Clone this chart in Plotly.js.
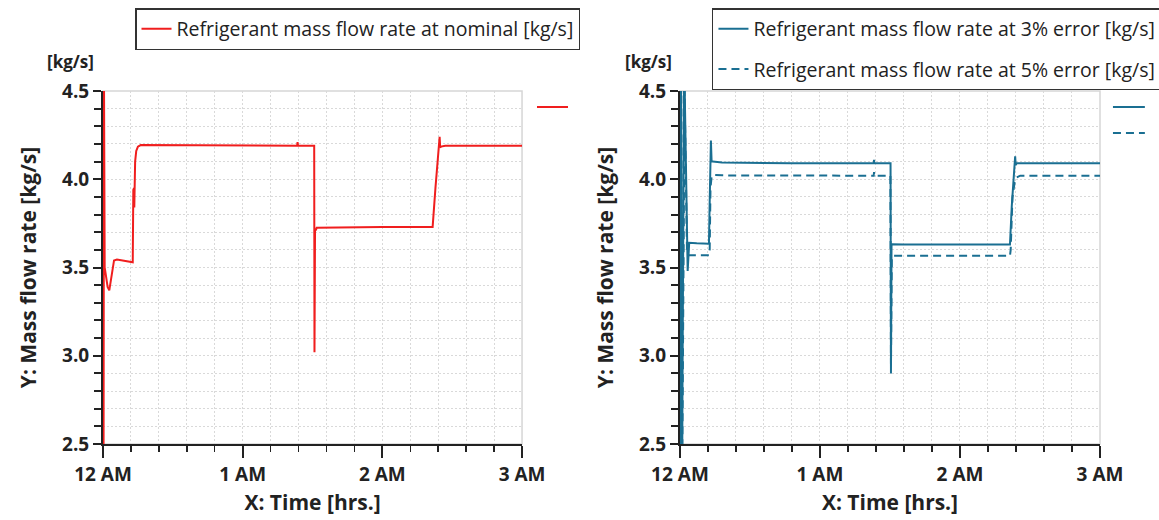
<!DOCTYPE html>
<html>
<head>
<meta charset="utf-8">
<script src="https://cdn.plot.ly/plotly-3.0.1.min.js"></script>
<style>
  html, body { margin: 0; padding: 0; background: #ffffff; }
  #chart { width: 1159px; height: 520px; }
</style>
</head>
<body>
<div id="chart"></div>
<script>
// ---- Data (hours since 12 AM, kg/s) ----
const xTickVals = [0, 1, 2, 3];
const xTickText = ["12 AM", "1 AM", "2 AM", "3 AM"];

const nameNominal = "Refrigerant mass flow rate at nominal [kg/s]";
const name3 = "Refrigerant mass flow rate at 3% error [kg/s]";
const name5 = "Refrigerant mass flow rate at 5% error [kg/s]";

const tNominal = [0, 0.004, 0.007, 0.012, 0.02, 0.033, 0.045, 0.055, 0.066, 0.079, 0.1, 0.15, 0.213, 0.217, 0.222, 0.224, 0.23, 0.238, 0.25, 0.27, 0.6, 1.0, 1.39, 1.393, 1.396, 1.512, 1.514, 1.518, 1.523, 1.53, 2.0, 2.36, 2.38, 2.40, 2.41, 2.414, 2.42, 2.45, 3.0];
const vNominal = [2.4, 2.4, 4.6, 3.5, 3.46, 3.39, 3.37, 3.42, 3.5, 3.54, 3.545, 3.54, 3.53, 3.94, 3.95, 3.84, 4.10, 4.16, 4.185, 4.194, 4.192, 4.19, 4.19, 4.21, 4.19, 4.19, 3.02, 3.72, 3.71, 3.725, 3.73, 3.73, 3.95, 4.13, 4.24, 4.18, 4.185, 4.19, 4.19];

const t3 = [0, 0.007, 0.014, 0.03, 0.055, 0.062, 0.066, 0.12, 0.207, 0.213, 0.221, 0.226, 0.234, 0.3, 0.8, 1.384, 1.386, 1.388, 1.504, 1.507, 1.511, 1.516, 1.6, 2.0, 2.357, 2.37, 2.385, 2.394, 2.398, 2.405, 2.43, 3.0];
const v3 = [2.3, 4.8, 2.2, 4.7, 3.48, 3.62, 3.64, 3.637, 3.635, 3.9, 4.22, 4.10, 4.10, 4.095, 4.09, 4.09, 4.11, 4.09, 4.09, 2.9, 3.63, 3.632, 3.63, 3.63, 3.63, 3.85, 4.06, 4.13, 4.08, 4.09, 4.09, 4.09];

const t5 = [0, 0.009, 0.016, 0.033, 0.05, 0.06, 0.12, 0.207, 0.212, 0.218, 0.226, 0.24, 0.3, 0.8, 1.384, 1.386, 1.388, 1.503, 1.507, 1.513, 1.52, 2.0, 2.357, 2.362, 2.375, 2.39, 2.405, 2.43, 3.0];
const v5 = [2.2, 4.7, 2.3, 4.5, 3.6, 3.57, 3.57, 3.57, 3.58, 3.95, 4.015, 4.024, 4.022, 4.02, 4.02, 4.04, 4.02, 4.02, 2.95, 3.56, 3.566, 3.566, 3.566, 3.6, 3.9, 3.98, 4.01, 4.02, 4.02];

// ---- Styling ----
const FONT = "Open Sans, Noto Sans, DejaVu Sans, sans-serif";
const RED = "#f01e1e";
const BLUE = "#1a6f92";
const GRID = "#d9d9d9";
const GRIDDASH = "2px,2px";
const AXC = "#222222";

const traces = [
  { x: tNominal, y: vNominal, name: nameNominal, type: "scatter", mode: "lines",
    line: { color: RED, width: 2 }, xaxis: "x", yaxis: "y", legend: "legend" },
  { x: t3, y: v3, name: name3, type: "scatter", mode: "lines", legendgroup: "g3",
    line: { color: BLUE, width: 2 }, xaxis: "x2", yaxis: "y2", legend: "legend2" },
  { x: t5, y: v5, name: name5, type: "scatter", mode: "lines", legendgroup: "g5",
    line: { color: BLUE, width: 2, dash: "8px,5px" }, xaxis: "x2", yaxis: "y2", legend: "legend2" }
];

function xAxis(domain, anchor) {
  return {
    domain: domain, anchor: anchor, range: [0, 3], fixedrange: true, layer: "below traces",
    tickmode: "array", tickvals: xTickVals, ticktext: xTickText,
    ticks: "outside", ticklen: 12, tickwidth: 2, tickcolor: AXC,
    showline: true, linecolor: AXC, linewidth: 2, zeroline: false,
    showgrid: true, gridcolor: GRID, griddash: GRIDDASH, gridwidth: 1,
    minor: { dtick: 0.2, tick0: 0, ticks: "outside", ticklen: 6, tickwidth: 1.5, tickcolor: AXC,
             showgrid: true, gridcolor: GRID, griddash: GRIDDASH, gridwidth: 1 },
    tickfont: { family: FONT, size: 19, color: AXC, weight: "bold" },
    title: { text: "X: Time [hrs.]", font: { family: FONT, size: 21, color: AXC, weight: "bold" }, standoff: 10 }
  };
}
function yAxis(anchor) {
  return {
    domain: [0, 1], anchor: anchor, range: [2.5, 4.5], fixedrange: true, layer: "below traces",
    tick0: 2.5, dtick: 0.5, tickformat: ".1f",
    ticks: "outside", ticklen: 8, tickwidth: 2, tickcolor: AXC,
    showline: true, linecolor: AXC, linewidth: 2, zeroline: false,
    showgrid: true, gridcolor: GRID, griddash: GRIDDASH, gridwidth: 1,
    minor: { dtick: 0.1, tick0: 2.5, ticks: "outside", ticklen: 7, tickwidth: 2, tickcolor: AXC,
             showgrid: true, gridcolor: GRID, griddash: GRIDDASH, gridwidth: 1 },
    tickfont: { family: FONT, size: 19, color: AXC, weight: "bold" },
    title: { text: "Y: Mass flow rate [kg/s]", font: { family: FONT, size: 21, color: AXC, weight: "bold" }, standoff: 20 }
  };
}

const legendBase = {
  xanchor: "left", yanchor: "top", bgcolor: "#ffffff",
  bordercolor: "#333333", borderwidth: 1.5,
  font: { family: FONT, size: 19.5, color: "#222222" }
};

const layout = {
  width: 1159, height: 520,
  margin: { l: 103, r: 59, t: 91, b: 76, autoexpand: false },
  paper_bgcolor: "#ffffff", plot_bgcolor: "#ffffff",
  font: { family: FONT, color: AXC },
  showlegend: true,
  xaxis: xAxis([0, 0.4203], "y"),
  yaxis: yAxis("x"),
  xaxis2: xAxis([0.5787, 1], "y2"),
  yaxis2: yAxis("x2"),
  legend: Object.assign({}, legendBase, { x: 0.0321, y: 1.2351 }),
  legend2: Object.assign({}, legendBase, { x: 0.6108, y: 1.2351, tracegroupgap: 12, traceorder: "grouped" }),
  shapes: [
    { type: "rect", xref: "x domain", yref: "y domain", x0: 0, x1: 1, y0: 0, y1: 1,
      line: { color: "#d6d6d6", width: 1.5 }, layer: "below" },
    { type: "rect", xref: "x2 domain", yref: "y2 domain", x0: 0, x1: 1, y0: 0, y1: 1,
      line: { color: "#d6d6d6", width: 1.5 }, layer: "below" },
    { type: "line", xref: "paper", yref: "paper", x0: 0.4353, x1: 0.4664, y0: 0.9547, y1: 0.9547,
      line: { color: RED, width: 2 } },
    { type: "line", xref: "paper", yref: "paper", x0: 1.013, x1: 1.045, y0: 0.9547, y1: 0.9547,
      line: { color: BLUE, width: 2 } },
    { type: "line", xref: "paper", yref: "paper", x0: 1.013, x1: 1.045, y0: 0.881, y1: 0.881,
      line: { color: BLUE, width: 2, dash: "8px,5px" } }
  ],
  annotations: [
    { text: "[kg/s]", xref: "paper", yref: "paper", x: -0.0321, y: 1.0822, showarrow: false,
      xanchor: "center", yanchor: "middle", font: { family: FONT, size: 17, color: AXC, weight: "bold" } },
    { text: "[kg/s]", xref: "paper", yref: "paper", x: 0.5476, y: 1.0822, showarrow: false,
      xanchor: "center", yanchor: "middle", font: { family: FONT, size: 17, color: AXC, weight: "bold" } }
  ]
};

Plotly.newPlot("chart", traces, layout, { staticPlot: true, displayModeBar: false });
</script>
</body>
</html>
